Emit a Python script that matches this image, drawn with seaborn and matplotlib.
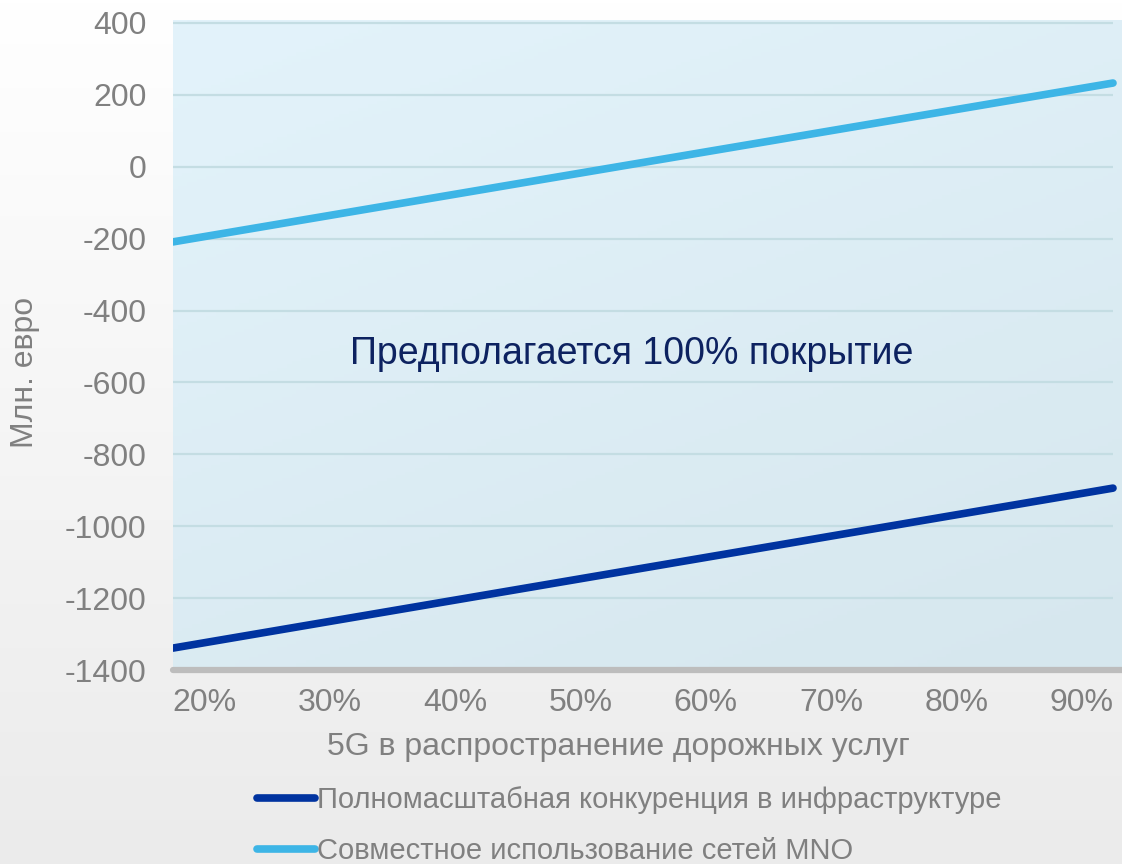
import numpy as np
import pandas as pd
import seaborn as sns
from matplotlib import pyplot as plt
from matplotlib.colors import LinearSegmentedColormap

# values
coverage = [17.5, 92.5]  # 5G share (%), line ends
full_competition = [-1339, -894]
mno_sharing = [-209, 233]
series_names = ["Полномасштабная конкуренция в инфраструктуре",
                "Совместное использование сетей MNO"]
x_ticks = [20, 30, 40, 50, 60, 70, 80, 90]
y_ticks = [400, 200, 0, -200, -400, -600, -800, -1000, -1200, -1400]

DARK = "#0033a0"
LIGHT = "#3db5e6"
GREY = "#808080"

df = pd.DataFrame({
    "x": coverage * 2,
    "y": full_competition + mno_sharing,
    "series": [series_names[0]] * 2 + [series_names[1]] * 2,
})

sns.set_theme(style="white")
plt.rcParams["font.family"] = ["Liberation Sans", "DejaVu Sans"]

W, H = 1122, 864
fig = plt.figure(figsize=(W / 100, H / 100), dpi=100)

# page background: white at top fading to light grey
bg = fig.add_axes([0, 0, 1, 1], zorder=-10)
bg_cmap = LinearSegmentedColormap.from_list("bg", ["#ffffff", "#ebebeb"])
grad = np.linspace(0, 1, 256).reshape(-1, 1) * np.ones((1, 2))
bg.imshow(grad, cmap=bg_cmap, aspect="auto", extent=[0, 1, 0, 1], origin="upper")
bg.axis("off")

left, right, top, bottom = 173, 1122, 20, 670
ax = fig.add_axes([left / W, 1 - bottom / H, (right - left) / W, (bottom - top) / H])

xmin = 17.5
xmax = 92.5 + (right - 1113) * 75 / 940
ymin, ymax = -1400, 400 + 3 * 1800 / 647
ax.set_xlim(xmin, xmax)
ax.set_ylim(ymin, ymax)

# plot area gradient
pa_cmap = LinearSegmentedColormap.from_list("pa", ["#e3f3fb", "#d6e7ee"])
yy, xx = np.mgrid[0:1:200j, 0:1:200j]
ax.imshow(0.35 * xx + 0.65 * yy, cmap=pa_cmap, aspect="auto",
          extent=[xmin, xmax, ymin, ymax], origin="upper", zorder=0)

ax.hlines(y_ticks[:-1], coverage[0], coverage[1], color="#c4dde3", lw=1.6, zorder=1)

sns.lineplot(data=df, x="x", y="y", hue="series", palette=[DARK, LIGHT],
             linewidth=5.5, ax=ax, legend=False, zorder=3,
             solid_capstyle="round")

for s in ["top", "right", "left"]:
    ax.spines[s].set_visible(False)
ax.spines["bottom"].set_color("#bdbdbd")
ax.spines["bottom"].set_linewidth(4.5)
ax.spines["bottom"].set_capstyle("round")
ax.spines["bottom"].set_zorder(4)

ax.set_xticks(x_ticks)
ax.set_xticklabels([f"{v}%" for v in x_ticks])
ax.set_yticks(y_ticks)
ax.set_yticklabels([str(v) for v in y_ticks])
ax.tick_params(axis="both", length=0, labelsize=23, colors=GREY)
ax.tick_params(axis="y", pad=19)
ax.tick_params(axis="x", pad=13)
ax.set_xlabel("")
ax.set_ylabel("")
ax.grid(False)

fig.text(618 / W, 1 - 747 / H, "5G в распространение дорожных услуг",
         ha="center", va="center", fontsize=23, color=GREY)
fig.text(25 / W, 1 - 372 / H, "Млн. евро", rotation=90,
         ha="center", va="center", fontsize=23, color=GREY)
ax.text((350 - left) / (right - left), 1 - (354 - top) / (bottom - top),
        "Предполагается 100% покрытие", transform=ax.transAxes,
        ha="left", va="center", fontsize=27, color="#0d2260")

handles = [plt.Line2D([], [], color=c, lw=5.5, solid_capstyle="round") for c in (DARK, LIGHT)]
fig.legend(handles, series_names, loc="upper left",
           bbox_to_anchor=(257 / W, 1 - 786 / H), frameon=False,
           fontsize=21, labelcolor=GREY, handlelength=2.0,
           handletextpad=0.05, labelspacing=0.8, borderpad=0, borderaxespad=0)

fig.savefig("out.png", dpi=100)
